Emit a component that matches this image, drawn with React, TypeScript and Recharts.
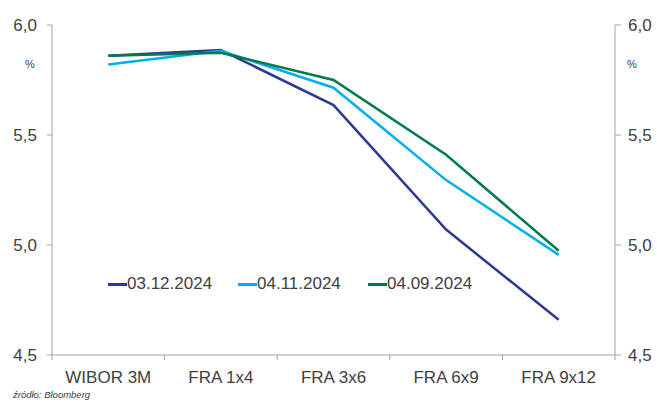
import { LineChart, Line, XAxis, YAxis } from 'recharts'

const categories = ['WIBOR 3M', 'FRA 1x4', 'FRA 3x6', 'FRA 6x9', 'FRA 9x12']
const dec03 = [5.86, 5.886, 5.636, 5.07, 4.66]
const nov04 = [5.82, 5.883, 5.715, 5.295, 4.955]
const sep04 = [5.86, 5.874, 5.75, 5.41, 4.974]
const yTicks = [4.5, 5.0, 5.5, 6.0]

// green series sits on the right axis so that axis gets its ticks; both share one domain
const SERIES = [
  { key: 'dec03', name: '03.12.2024', color: '#2e3a8f', axis: 'left' },
  { key: 'nov04', name: '04.11.2024', color: '#00aeef', axis: 'left' },
  { key: 'sep04', name: '04.09.2024', color: '#007a4e', axis: 'right' },
]

const data = categories.map((name, i) => ({
  name,
  dec03: dec03[i],
  nov04: nov04[i],
  sep04: sep04[i],
}))

const W = 657
const H = 403
const LEFT_W = 52
const RIGHT_W = 42
const AXIS_COLOR = '#a3a3a3'
const TEXT_COLOR = '#404040'
const FONT = '"Liberation Sans", Arial, sans-serif'
const BAND = (W - LEFT_W - RIGHT_W) / categories.length

const fmt = (v: number) => v.toFixed(1).replace('.', ',')

function CategoryTick(props: any) {
  const { x, y, payload, index } = props
  const axisY = y - 8
  const last = index === categories.length - 1
  return (
    <g>
      <line x1={x - BAND / 2} x2={x - BAND / 2} y1={axisY} y2={axisY + 5} stroke={AXIS_COLOR} />
      {last && <line x1={x + BAND / 2} x2={x + BAND / 2} y1={axisY} y2={axisY + 5} stroke={AXIS_COLOR} />}
      <text x={x} y={axisY + 28} textAnchor="middle" fill={TEXT_COLOR} fontSize={17} fontFamily={FONT}>
        {payload.value}
      </text>
    </g>
  )
}

function ChartLegend() {
  return (
    <div
      style={{
        position: 'absolute',
        left: 108,
        top: 274,
        display: 'flex',
        fontSize: 17,
        color: TEXT_COLOR,
      }}
    >
      {SERIES.map((s) => (
        <div key={s.key} style={{ display: 'flex', alignItems: 'center', width: 130 }}>
          <span style={{ display: 'inline-block', width: 19, height: 3, background: s.color }} />
          <span style={{ lineHeight: '20px' }}>{s.name}</span>
        </div>
      ))}
    </div>
  )
}

export default function App() {
  return (
    <div style={{ position: 'absolute', left: 0, top: 0, width: W, height: H, background: '#fff', fontFamily: FONT }}>
      <LineChart width={W} height={H} data={data} margin={{ top: 25, right: 0, bottom: 18, left: 0 }}>
        <XAxis
          dataKey="name"
          scale="band"
          stroke={AXIS_COLOR}
          tickLine={false}
          tick={<CategoryTick />}
          height={30}
          interval={0}
        />
        <YAxis
          yAxisId="left"
          domain={[4.5, 6]}
          ticks={yTicks}
          tickFormatter={fmt}
          width={LEFT_W}
          stroke={AXIS_COLOR}
          tickSize={5}
          tickMargin={10}
          tick={{ fill: TEXT_COLOR, fontSize: 17, fontFamily: FONT }}
        />
        <YAxis
          yAxisId="right"
          orientation="right"
          domain={[4.5, 6]}
          ticks={yTicks}
          tickFormatter={fmt}
          width={RIGHT_W}
          stroke={AXIS_COLOR}
          tickSize={6}
          tickMargin={7}
          tick={{ fill: TEXT_COLOR, fontSize: 17, fontFamily: FONT }}
        />
        {SERIES.map((s) => (
          <Line
            key={s.key}
            yAxisId={s.axis}
            dataKey={s.key}
            name={s.name}
            stroke={s.color}
            strokeWidth={2.5}
            dot={false}
            activeDot={false}
            isAnimationActive={false}
          />
        ))}
      </LineChart>
      <ChartLegend />
      <div style={{ position: 'absolute', left: 25, top: 58, fontSize: 11, color: TEXT_COLOR }}>%</div>
      <div style={{ position: 'absolute', left: 627, top: 58, fontSize: 11, color: TEXT_COLOR }}>%</div>
      <div style={{ position: 'absolute', left: 13, top: 389, fontSize: 9.5, fontStyle: 'italic', color: TEXT_COLOR }}>
        źródło: Bloomberg
      </div>
    </div>
  )
}
